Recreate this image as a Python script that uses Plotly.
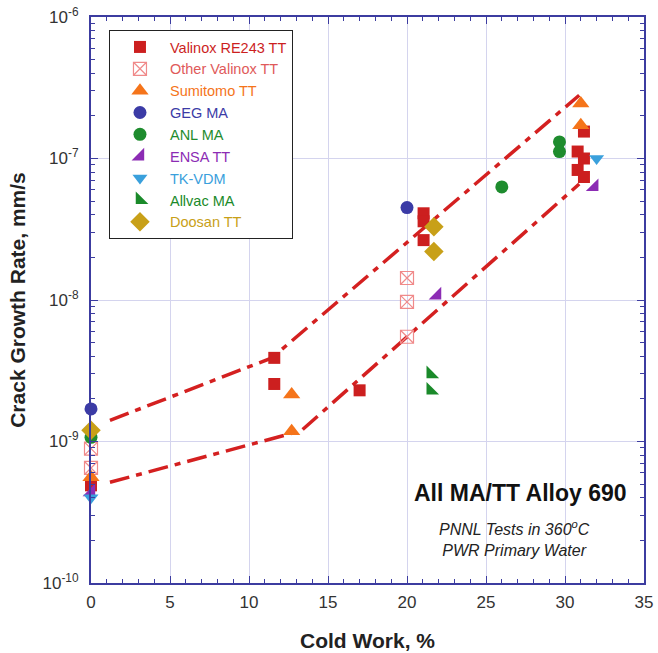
import plotly.graph_objects as go

# ---- data ----
valinox_x = [0, 11.6, 11.6, 17, 21.05, 21.05, 21.05, 30.8, 31.2, 30.8, 31.2, 31.2]
valinox_y = [4.9e-10, 3.9e-9, 2.55e-9, 2.3e-9, 4.1e-8, 3.6e-8, 2.65e-8, 1.12e-7, 1.55e-7, 8.3e-8, 1.0e-7, 7.4e-8]

other_x = [0, 0, 20, 20, 20]
other_y = [8.9e-10, 6.5e-10, 1.43e-8, 9.7e-9, 5.5e-9]

sumi_x = [0, 12.7, 12.7, 31, 31]
sumi_y = [5.6e-10, 2.15e-9, 1.18e-9, 2.45e-7, 1.72e-7]

geg_x = [0, 20]
geg_y = [1.7e-9, 4.5e-8]

anl_x = [0, 26, 29.65, 29.65]
anl_y = [1.07e-9, 6.3e-8, 1.31e-7, 1.12e-7]

ensa_x = [0, 21.9, 31.85]
ensa_y = [4.4e-10, 1.08e-8, 6.3e-8]

tk_x = [0, 32]
tk_y = [4.0e-10, 1.0e-7]

allvac_x = [21.5, 21.5]
allvac_y = [3.0e-9, 2.3e-9]

doosan_x = [0, 21.7, 21.7]
doosan_y = [1.2e-9, 3.3e-8, 2.2e-8]

upper_x = [1.2, 11.45, 30.9]
upper_y = [1.41e-9, 3.9e-9, 2.8e-7]
lower_x = [1.2, 13.3, 30.9]
lower_y = [5.15e-10, 1.19e-9, 6.6e-8]

x_ticks = [0, 5, 10, 15, 20, 25, 30, 35]
x_minor = list(range(0, 36))
y_ticks = [1e-10, 1e-9, 1e-8, 1e-7, 1e-6]
y_ticklabels = ["10<sup>-10</sup>", "10<sup>-9</sup>", "10<sup>-8</sup>", "10<sup>-7</sup>", "10<sup>-6</sup>"]
y_minor = [m * d for d in [1e-10, 1e-9, 1e-8, 1e-7] for m in range(2, 10)]

series = [
    ("Valinox RE243 TT", valinox_x, valinox_y, "square", "#cc1f1f", "#cc1f1f", 12),
    ("Other Valinox TT", other_x, other_y, "square-x-open", "#f08a8a", "#e05a5a", 13),
    ("Sumitomo TT", sumi_x, sumi_y, "triangle-up", "#f5741a", "#f5741a", 15),
    ("GEG MA", geg_x, geg_y, "circle", "#3b3ba6", "#3b3ba6", 13),
    ("ANL MA", anl_x, anl_y, "circle", "#1e8c2e", "#1e8c2e", 13),
    ("ENSA TT", ensa_x, ensa_y, "triangle-se", "#8c2cb4", "#8c2cb4", 14),
    ("TK-VDM", tk_x, tk_y, "triangle-down", "#3aa0dc", "#3aa0dc", 13),
    ("Allvac MA", allvac_x, allvac_y, "triangle-sw", "#1a8a2a", "#1a8a2a", 14),
    ("Doosan TT", doosan_x, doosan_y, "diamond", "#c8a018", "#c8a018", 15),
]

fig = go.Figure()

for lx, ly in [(upper_x, upper_y), (lower_x, lower_y)]:
    fig.add_trace(go.Scatter(
        x=lx, y=ly, mode="lines", showlegend=False, hoverinfo="skip",
        line=dict(color="#d42020", width=3.5, dash="20px,7px,6px,7px"),
    ))

for name, xs, ys, sym, col, tcol, sz in series:
    fig.add_trace(go.Scatter(
        x=xs, y=ys, mode="markers", cliponaxis=False,
        name=f'<span style="color:{tcol}">{name}</span>',
        marker=dict(symbol=sym, color=col, size=sz,
                    line=dict(width=1.2 if sym.endswith("open") else 0, color=col)),
    ))

font_family = "Arial, Liberation Sans, sans-serif"
axis_col = "#3c3ca0"

fig.update_layout(
    width=658, height=653,
    margin=dict(l=91, r=14, t=17, b=70),
    paper_bgcolor="white", plot_bgcolor="white",
    font=dict(family=font_family, size=17, color="#333333"),
    showlegend=True,
    legend=dict(
        x=0.0325, y=0.977, xanchor="left", yanchor="top",
        bordercolor="#222222", borderwidth=1, bgcolor="white",
        font=dict(size=14.5, family=font_family),
        itemwidth=50, tracegroupgap=0,
    ),
    xaxis=dict(
        range=[0, 35], tickvals=x_ticks, ticks="inside", ticklen=7,
        tickcolor=axis_col, tickwidth=1, ticklabelstandoff=3,
        minor=dict(tickvals=x_minor, ticks="inside", ticklen=4, tickcolor=axis_col, showgrid=False),
        showgrid=True, gridcolor="#d4d4ee", gridwidth=1,
        showline=True, linecolor=axis_col, linewidth=2, mirror="ticks",
        zeroline=False, automargin=False,
        title=dict(text="<b>Cold Work, %</b>", font=dict(size=21, color="#222222"), standoff=22),
        tickfont=dict(size=17, color="#333333"),
    ),
    yaxis=dict(
        type="log", range=[-10, -6], tickvals=y_ticks, ticktext=y_ticklabels,
        ticks="inside", ticklen=7, tickcolor=axis_col, tickwidth=1, ticklabelstandoff=7,
        minor=dict(tickvals=y_minor, ticks="inside", ticklen=4, tickcolor=axis_col, showgrid=False),
        showgrid=True, gridcolor="#d4d4ee", gridwidth=1,
        showline=True, linecolor=axis_col, linewidth=2, mirror="ticks",
        zeroline=False, automargin=False,
        title=dict(text="<b>Crack Growth Rate, mm/s</b>", font=dict(size=21, color="#222222"), standoff=11),
        tickfont=dict(size=17, color="#333333"),
    ),
    annotations=[
        dict(x=0.776, y=0.159, xref="paper", yref="paper", showarrow=False,
             xanchor="center", yanchor="middle",
             text="<b>All MA/TT Alloy 690</b>", font=dict(size=23, color="#111111")),
        dict(x=0.765, y=0.0795, xref="paper", yref="paper", showarrow=False,
             xanchor="center", yanchor="middle",
             text="<i>PNNL Tests in 360<sup>o</sup>C<br>PWR Primary Water</i>",
             font=dict(size=16, color="#222222")),
    ],
)

fig.write_html("out.html")
